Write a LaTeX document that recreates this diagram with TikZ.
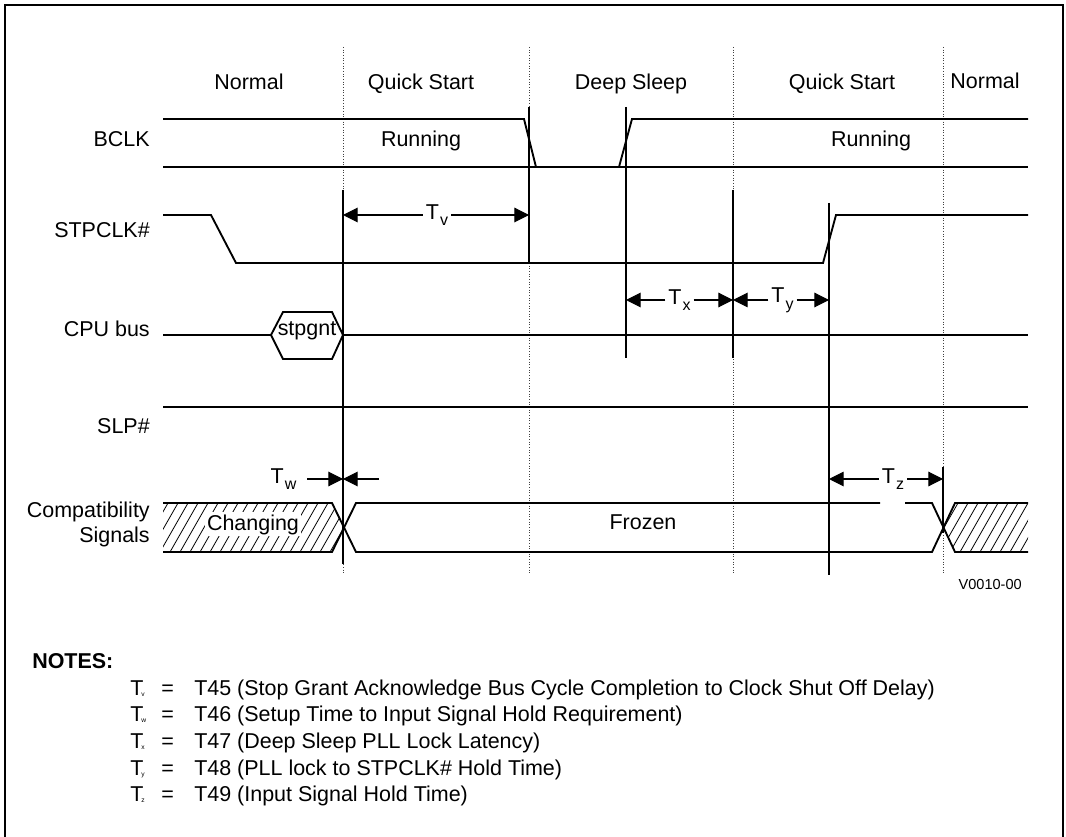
\documentclass[tikz,border=0pt]{standalone}
\usepackage{fontspec}
\setmainfont{Liberation Sans}
\usetikzlibrary{arrows.meta}
\newcommand\Tlab[1]{T\kern0.8pt\raisebox{-5pt}{\fontsize{12}{12}\selectfont #1}}
\newcommand\Tnote[1]{T\kern-1.5pt\raisebox{-0.8pt}{\fontsize{5}{5}\selectfont #1}}
\begin{document}
\begin{tikzpicture}[x=0.75pt,y=-0.75pt,
  sig/.style={line width=1.4pt, line join=miter},
  vline/.style={line width=0.8pt},
  dotline/.style={line width=0.7pt, black!75, dash pattern=on 0.75pt off 1.25pt},
  dim/.style={line width=0.8pt, -{Triangle[length=11pt,width=11pt]}},
  lbl/.style={font=\fontsize{16.1pt}{19pt}\selectfont, inner sep=0pt},
  notef/.style={font=\fontsize{16.1pt}{19pt}\selectfont, inner sep=0pt, anchor=base west},
  tlab/.style={font=\fontsize{16.1pt}{19pt}\selectfont, fill=white, inner xsep=2pt, inner ysep=0pt},
  hatch/.style={line width=0.6pt}]
\useasboundingbox (0,0) rectangle (1066,837);
% frame
\draw[line width=1.5pt] (5,850) -- (5,5) -- (1062.5,5) -- (1062.5,850);

% named vertical positions
\coordinate (v1) at (343,0);
\coordinate (v2) at (529,0);
\coordinate (v3) at (626,0);
\coordinate (v4) at (733,0);
\coordinate (v5) at (829,0);
\coordinate (v6) at (943,0);

% dotted phase boundaries
\foreach \x in {343,529,733,943} \draw[dotline] (\x,47) -- (\x,573);
% solid timing markers
\draw[vline] (343,190) -- (343,564);
\draw[vline] (529,107) -- (529,263);
\draw[vline] (626,107) -- (626,358);
\draw[vline] (733,190) -- (733,358);
\draw[vline] (829,203) -- (829,575);
\draw[vline] (943,467) -- (943,533);

% phase labels
\node[lbl, anchor=base] (n1) at (249,90) {Normal};
\node[lbl, anchor=base] (q1) at (421,90) {Quick Start};
\node[lbl, anchor=base] (ds) at (631,90) {Deep Sleep};
\node[lbl, anchor=base] (q2) at (842,90) {Quick Start};
\node[lbl, anchor=base] (n2) at (985,89) {Normal};

% signal names
\node[lbl, anchor=base east] (lb) at (150,147) {BCLK};
\node[lbl, anchor=base east] (ls) at (150,238) {STPCLK\#};
\node[lbl, anchor=base east] (lc) at (150,337) {CPU bus};
\node[lbl, anchor=base east] (lp) at (150,433) {SLP\#};
\node[lbl, anchor=base east] (lca) at (150,517) {Compatibility};
\node[lbl, anchor=base east] (lcb) at (150,542) {Signals};

% BCLK
\draw[sig] (163,119) -- (524,119) -- (536,167);
\draw[sig] (619,167) -- (632,119) -- (1028,119);
\draw[sig] (163,167) -- (1028,167);
\node[lbl, anchor=base] (r1) at (421,147) {Running};
\node[lbl, anchor=base] (r2) at (871,147) {Running};

% STPCLK#
\draw[sig] (163,215) -- (211,215) -- (236,263) -- (823,263) -- (836,215) -- (1028,215);

% CPU bus
\draw[sig] (163,335) -- (271,335) -- (283,312) -- (332,312) -- (343,335) -- (332,359) -- (283,359) -- (271,335);
\draw[sig] (343,335) -- (1028,335);
\node[lbl, anchor=base] (sg) at (307,336) {stpgnt};

% SLP#
\draw[sig] (163,407) -- (1028,407);

% Compatibility signals
\begin{scope}
  \clip (163,503) -- (332,503) -- (343,527.5) -- (332,552) -- (163,552) -- cycle;
  \foreach \i in {130,140,...,350} \draw[hatch] (\i,552) -- ++(28,-49);
\end{scope}
\begin{scope}
  \clip (943,527.5) -- (955,503) -- (1028,503) -- (1028,552) -- (955,552) -- cycle;
  \foreach \i in {900,910,...,1040} \draw[hatch] (\i,552) -- ++(28,-49);
\end{scope}
\draw[sig] (163,503) -- (332,503) -- (356,552) -- (932,552) -- (955,503) -- (1028,503);
\draw[sig] (163,552) -- (332,552) -- (356,503) -- (880,503);
\draw[sig] (905,503) -- (932,503) -- (955,552) -- (1028,552);
\node[lbl, anchor=base, fill=white, inner sep=1.5pt] (ch) at (253,530) {Changing};
\node[lbl, anchor=base] (fr) at (643,529) {Frozen};

% timing dimensions
\node[tlab] (tv) at (437,215) {\Tlab{v}};
\draw[dim] (tv) -- (v1 |- tv);
\draw[dim] (tv) -- (v2 |- tv);

\node[tlab] (tx) at (679.5,300) {\Tlab{x}};
\draw[dim] (tx) -- (v3 |- tx);
\draw[dim] (tx) -- (v4 |- tx);

\node[tlab] (ty) at (782.5,300) {\Tlab{y}};
\draw[dim] (ty) -- (v4 |- ty);
\draw[dim] (ty) -- (v5 |- ty);

\node[tlab] (tz) at (893,479) {\Tlab{z}};
\draw[dim] (tz) -- (v5 |- tz);
\draw[dim] (tz) -- (v6 |- tz);

\node[tlab, fill=none] (tw) at (283.5,479) {\Tlab{w}};
\coordinate (twa) at (307,479);
\coordinate (twb) at (379,479);
\draw[dim] (twa) -- (v1 |- twa);
\draw[dim] (twb) -- (v1 |- twb);

\node[lbl, anchor=base east, font=\fontsize{10.9pt}{13pt}\selectfont] (ver) at (1022,589) {V0010-00};

% notes
\node[notef, font=\fontsize{16.1pt}{19pt}\selectfont\bfseries] (notes) at (32,668) {NOTES:};
\node[notef] (na1) at (130,695) {\Tnote{v}};
\node[notef] (nb1) at (161,695) {=};
\node[notef] (nc1) at (194,695) {T45 (Stop Grant Acknowledge Bus Cycle Completion to Clock Shut Off Delay)};
\node[notef] (na2) at (130,721.7) {\Tnote{w}};
\node[notef] (nb2) at (161,721.7) {=};
\node[notef] (nc2) at (194,721.7) {T46 (Setup Time to Input Signal Hold Requirement)};
\node[notef] (na3) at (130,748.3) {\Tnote{x}};
\node[notef] (nb3) at (161,748.3) {=};
\node[notef] (nc3) at (194,748.3) {T47 (Deep Sleep PLL Lock Latency)};
\node[notef] (na4) at (130,775) {\Tnote{y}};
\node[notef] (nb4) at (161,775) {=};
\node[notef] (nc4) at (194,775) {T48 (PLL lock to STPCLK\# Hold Time)};
\node[notef] (na5) at (130,801.7) {\Tnote{z}};
\node[notef] (nb5) at (161,801.7) {=};
\node[notef] (nc5) at (194,801.7) {T49 (Input Signal Hold Time)};
\end{tikzpicture}
\end{document}
